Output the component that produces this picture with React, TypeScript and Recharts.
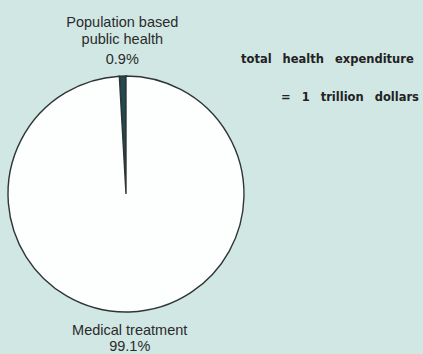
import React from "react";
import { PieChart, Pie, Cell } from "recharts";

// Share of total US health expenditure
const categories = ["Population based|public health", "Medical treatment"];
const shares = [0.9, 99.1];
const shareLabels = ["0.9%", "99.1%"];
const sliceColors = ["#1f4b50", "#fdfefe"];

const noteLines = ["total health expenditure", "= 1 trillion dollars"];

const data = categories.map((name, i) => ({ name, value: shares[i], pct: shareLabels[i] }));

const RADIAN = Math.PI / 180;

const renderLabel = (props: any) => {
  const { cx, cy, midAngle, outerRadius, index } = props;
  const top = index === 0;
  const r = outerRadius + (top ? 12 : 14);
  const x = cx + r * Math.cos(-midAngle * RADIAN);
  const y = cy + r * Math.sin(-midAngle * RADIAN);
  const lines = [...categories[index].split("|"), shareLabels[index]];
  const offsets = top ? [-37, -20, 0] : [9, 25];
  return (
    <text
      x={x}
      y={y}
      textAnchor="middle"
      fill="#2b2b2b"
      style={{ fontFamily: "'Liberation Sans', Arial, sans-serif", fontSize: 14.5 }}
    >
      {lines.map((l, i) => (
        <tspan key={i} x={x} y={y + offsets[i]}>
          {l}
        </tspan>
      ))}
    </text>
  );
};

const noteStyle = {
  fontFamily: "'DejaVu Sans', sans-serif",
  fontSize: 11.5,
  fontWeight: 700,
  wordSpacing: 7,
};

export default function App() {
  return (
    <div
      style={{
        position: "absolute",
        left: 0,
        top: 0,
        width: 423,
        height: 354,
        background: "#d0e7e4",
        overflow: "hidden",
      }}
    >
      <PieChart width={423} height={354} margin={{ top: 0, right: 0, bottom: 0, left: 0 }}>
        <Pie
          data={data}
          dataKey="value"
          cx={126}
          cy={194}
          outerRadius={118}
          startAngle={90}
          endAngle={450}
          stroke="#2f3535"
          strokeWidth={1.4}
          label={renderLabel}
          labelLine={false}
          isAnimationActive={false}
        >
          {data.map((d, i) => (
            <Cell key={d.name} fill={sliceColors[i]} />
          ))}
        </Pie>
      </PieChart>
      <svg
        width={423}
        height={354}
        style={{ position: "absolute", left: 0, top: 0, pointerEvents: "none" }}
      >
        <text x={241} y={63} fill="#222" style={noteStyle}>
          {noteLines[0]}
        </text>
        <text x={281} y={101} fill="#222" style={noteStyle}>
          {noteLines[1]}
        </text>
      </svg>
    </div>
  );
}
